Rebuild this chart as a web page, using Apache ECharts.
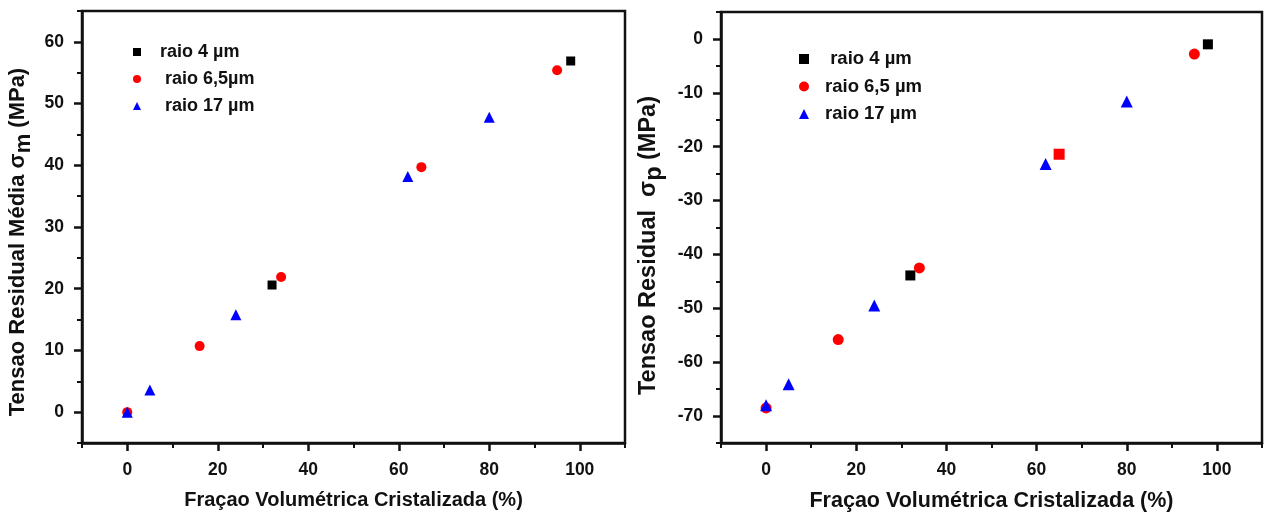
<!DOCTYPE html>
<html>
<head>
<meta charset="utf-8">
<script src="https://cdn.jsdelivr.net/npm/echarts@6/dist/echarts.min.js"></script>
<style>
html,body{margin:0;padding:0;background:#fff;}
#chart{width:1269px;height:519px;}
</style>
</head>
<body>
<div id="chart"></div>
<script>
// ---------- data ----------
const xTitle = 'Fraçao Volumétrica Cristalizada (%)';
const xMajorTicks = [0, 20, 40, 60, 80, 100];
const xMinorTicks = [-10, 10, 30, 50, 70, 90, 110];

// left panel: mean residual stress
const leftYMajor = [0, 10, 20, 30, 40, 50, 60];
const leftYMinor = [-5, 5, 15, 25, 35, 45, 55, 65];
const leftNames = ['raio 4 µm', ' raio 6,5µm', ' raio 17 µm'];
const left4X = [32, 98];
const left4Y = [20.6, 56.9];
const left65X = [0, 16, 34, 65, 95];
const left65Y = [0, 10.7, 21.9, 39.7, 55.4];
const left17X = [0, 5, 24, 62, 80];
const left17Y = [0, 3.6, 15.8, 38.2, 47.8];

// right panel: residual stress sigma_p
const rightYMajor = [-70, -60, -50, -40, -30, -20, -10, 0];
const rightYMinor = [-75, -65, -55, -45, -35, -25, -15, -5, 5];
const rightNames = [' raio 4 µm', 'raio 6,5 µm', 'raio 17 µm'];
const right4X = [32, 98];
const right4Y = [-43.9, -1.0];
const right65X = [0, 16, 34, 65, 95];
const right65Y = [-68.5, -55.8, -42.5, -21.4, -2.8];
const right65Symbols = ['circle', 'circle', 'circle', 'rect', 'circle'];
const right17X = [0, 5, 24, 62, 80];
const right17Y = [-68.0, -64.1, -49.5, -23.2, -11.6];

// ---------- chart ----------
const FONT = '"Liberation Sans", Arial, Helvetica, sans-serif';
const INK = '#111';
const BLACK = '#000000', RED = '#ff0000', BLUE = '#0000ff';

function pairs(xs, ys) { return xs.map((x, i) => [x, ys[i]]); }

function mainX(gridIndex, nameSize) {
  return {
    type: 'value', gridIndex, position: 'bottom',
    min: -10, max: 110, interval: 10,
    name: xTitle, nameLocation: 'middle', nameGap: 47,
    nameTextStyle: { fontFamily: FONT, fontWeight: 'bold', fontSize: nameSize, color: INK },
    axisLine: { show: true, onZero: false, lineStyle: { color: INK, width: 2.5 } },
    axisTick: { show: true, inside: false, length: 8, customValues: xMajorTicks, lineStyle: { color: INK, width: 2.5 } },
    axisLabel: { show: true, margin: 18, customValues: xMajorTicks, fontFamily: FONT, fontWeight: 'bold', fontSize: 17.5, color: INK },
    splitLine: { show: false }
  };
}
function minorX(gridIndex) {
  return {
    type: 'value', gridIndex, position: 'bottom',
    min: -10, max: 110, interval: 10,
    axisLine: { show: false, onZero: false },
    axisTick: { show: true, inside: false, length: 5, customValues: xMinorTicks, lineStyle: { color: INK, width: 2 } },
    axisLabel: { show: false },
    splitLine: { show: false }
  };
}
function mainY(gridIndex, min, max, majors, name, nameSize, nameGap, padRight) {
  return {
    type: 'value', gridIndex, position: 'left',
    min, max, interval: 5,
    name, nameLocation: 'middle', nameGap,
    nameTextStyle: {
      fontFamily: FONT, fontWeight: 'bold', fontSize: nameSize, color: INK,
      padding: [0, padRight, 0, 0],
      rich: {
        s: { fontFamily: FONT, fontWeight: 'bold', fontSize: nameSize, color: INK, padding: [12, 0, 0, 0] }
      }
    },
    axisLine: { show: true, onZero: false, lineStyle: { color: INK, width: 2.5 } },
    axisTick: { show: true, inside: false, length: 8, customValues: majors, lineStyle: { color: INK, width: 2.5 } },
    axisLabel: { show: true, margin: 18, customValues: majors, fontFamily: FONT, fontWeight: 'bold', fontSize: 17.5, color: INK },
    splitLine: { show: false }
  };
}
function minorY(gridIndex, min, max, minors) {
  return {
    type: 'value', gridIndex, position: 'left',
    min, max, interval: 5,
    axisLine: { show: false, onZero: false },
    axisTick: { show: true, inside: false, length: 5, customValues: minors, lineStyle: { color: INK, width: 2 } },
    axisLabel: { show: false },
    splitLine: { show: false }
  };
}

const chart = echarts.init(document.getElementById('chart'), null, { renderer: 'canvas' });
chart.setOption({
  backgroundColor: '#ffffff',
  animation: false,
  grid: [
    { left: 82, top: 11, width: 543, height: 432, show: true, borderColor: INK, borderWidth: 2.5, backgroundColor: 'transparent' },
    { left: 721, top: 12, width: 541, height: 431, show: true, borderColor: INK, borderWidth: 2.5, backgroundColor: 'transparent' }
  ],
  xAxis: [mainX(0, 20), minorX(0), mainX(1, 21.5), minorX(1)],
  yAxis: [
    mainY(0, -5, 65, leftYMajor, 'Tensao Residual Média σ{s|m} (MPa)', 22, 47, 30),
    minorY(0, -5, 65, leftYMinor),
    mainY(1, -75, 5, rightYMajor, 'Tensao Residual  σ{s|p} (MPa)', 23.5, 54, 36),
    minorY(1, -75, 5, rightYMinor)
  ],
  legend: [
    {
      data: leftNames, orient: 'vertical', left: 128, top: 37,
      itemWidth: 8, itemHeight: 8, itemGap: 7,
      textStyle: { fontFamily: FONT, fontWeight: 'bold', fontSize: 18, color: INK, lineHeight: 20, padding: [0, 0, 0, 14] },
      selectedMode: false
    },
    {
      data: rightNames, orient: 'vertical', left: 794, top: 44,
      itemWidth: 10, itemHeight: 10, itemGap: 7.5,
      textStyle: { fontFamily: FONT, fontWeight: 'bold', fontSize: 18.5, color: INK, lineHeight: 20, padding: [0, 0, 0, 11] },
      selectedMode: false
    }
  ],
  series: [
    { name: leftNames[0], type: 'scatter', xAxisIndex: 0, yAxisIndex: 0, symbol: 'rect', symbolSize: 9, itemStyle: { color: BLACK, opacity: 1 }, data: pairs(left4X, left4Y) },
    { name: leftNames[1], type: 'scatter', xAxisIndex: 0, yAxisIndex: 0, symbol: 'circle', symbolSize: 10, itemStyle: { color: RED, opacity: 1 }, data: pairs(left65X, left65Y) },
    { name: leftNames[2], type: 'scatter', xAxisIndex: 0, yAxisIndex: 0, symbol: 'triangle', symbolSize: 11, itemStyle: { color: BLUE, opacity: 1 }, data: pairs(left17X, left17Y) },
    { name: rightNames[0], type: 'scatter', xAxisIndex: 2, yAxisIndex: 2, symbol: 'rect', symbolSize: 10, itemStyle: { color: BLACK, opacity: 1 }, data: pairs(right4X, right4Y) },
    { name: rightNames[1], type: 'scatter', xAxisIndex: 2, yAxisIndex: 2, symbol: 'circle', symbolSize: 11, itemStyle: { color: RED, opacity: 1 },
      data: pairs(right65X, right65Y).map((p, i) => ({ value: p, symbol: right65Symbols[i] })) },
    { name: rightNames[2], type: 'scatter', xAxisIndex: 2, yAxisIndex: 2, symbol: 'triangle', symbolSize: 12, itemStyle: { color: BLUE, opacity: 1 }, data: pairs(right17X, right17Y) }
  ]
});
</script>
</body>
</html>
